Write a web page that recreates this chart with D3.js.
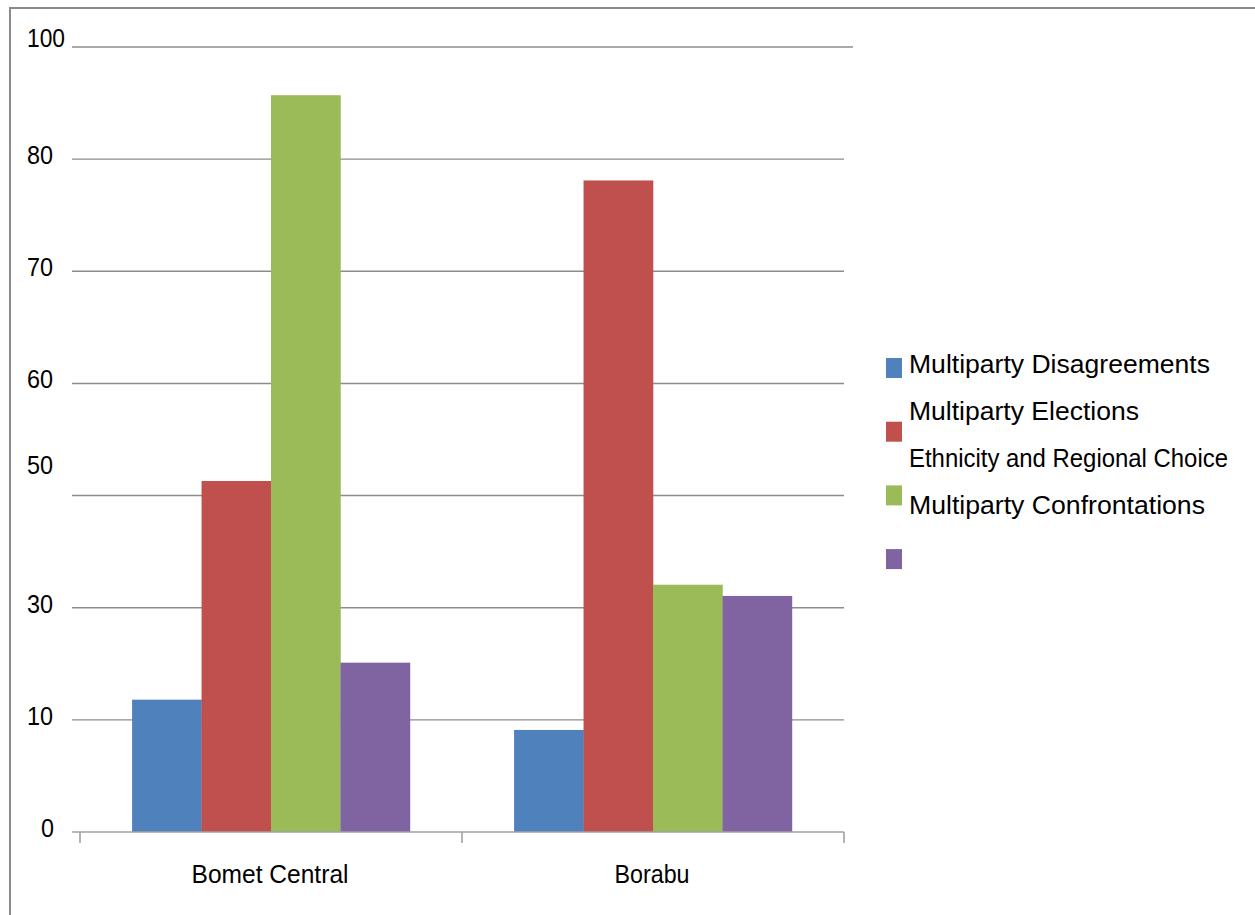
<!DOCTYPE html>
<html>
<head>
<meta charset="utf-8">
<script src="https://cdn.jsdelivr.net/npm/d3@7"></script>
<style>
  html, body { margin: 0; padding: 0; background: #fff; }
  svg { display: block; font-family: "Liberation Sans", Arial, sans-serif; }
</style>
</head>
<body>
<svg id="chart" width="1255" height="915"></svg>
<script>
// ---- data ----
const categories = ["Bomet Central", "Borabu"];
const seriesNames = ["Multiparty Disagreements", "Multiparty Elections", "Multiparty Confrontations", "Series 4"];
const disagreements = [13.6, 9.1];
const elections = [51.3, 78.1];
const confrontations = [91.4, 34.1];
const series4 = [20.2, 32.1];
const tickLabels = [0, 10, 30, 50, 60, 70, 80, 100];
const legendTexts = ["Multiparty Disagreements", "Multiparty Elections", "Ethnicity and Regional Choice", "Multiparty Confrontations"];

const colors = ["#4F81BD", "#C0504D", "#9BBB59", "#8064A2"];
const seriesValues = [disagreements, elections, confrontations, series4];

const svg = d3.select("#chart");

// outer border
svg.append("rect")
  .attr("x", 10).attr("y", 8)
  .attr("width", 1300).attr("height", 1000)
  .attr("fill", "none").attr("stroke", "#8a8a8a").attr("stroke-width", 2);

// scales
const yBottom = 832, yTop = 47;
const step = (yBottom - yTop) / (tickLabels.length - 1);
const y = d3.scaleLinear()
  .domain(tickLabels)
  .range(tickLabels.map((d, i) => yBottom - i * step));

const x0 = d3.scaleBand().domain(categories).range([80, 844]).paddingInner(0).paddingOuter(0);
const x1 = d3.scaleBand().domain(d3.range(seriesNames.length))
  .range([0, x0.bandwidth()]).paddingInner(0).paddingOuter(0.75);

// gridlines
svg.append("g").selectAll("line")
  .data(tickLabels.filter(d => d !== 0))
  .join("line")
  .attr("x1", 72)
  .attr("x2", d => d === 100 ? 853 : 844)
  .attr("y1", d => y(d)).attr("y2", d => y(d))
  .attr("stroke", "#8c8c8c").attr("stroke-width", 1.4);

// bars
const rows = categories.map((c, ci) => ({ c, vals: seriesValues.map((s, si) => ({ si, v: s[ci] })) }));
svg.append("g").selectAll("g")
  .data(rows)
  .join("g")
  .attr("transform", d => `translate(${x0(d.c)},0)`)
  .selectAll("rect")
  .data(d => d.vals)
  .join("rect")
  .attr("x", d => x1(d.si))
  .attr("width", x1.bandwidth() + 0.3)
  .attr("y", d => y(d.v))
  .attr("height", d => y(0) - y(d.v))
  .attr("fill", d => colors[d.si]);

// x axis
const xAxis = svg.append("g");
xAxis.append("line")
  .attr("x1", 72).attr("x2", 844)
  .attr("y1", y(0)).attr("y2", y(0))
  .attr("stroke", "#a0a0a0").attr("stroke-width", 1.6);
const tickXs = [x0.range()[0]].concat(categories.map(c => x0(c) + x0.bandwidth()));
xAxis.selectAll("line.tick")
  .data(tickXs)
  .join("line")
  .attr("class", "tick")
  .attr("x1", d => d).attr("x2", d => d)
  .attr("y1", y(0)).attr("y2", y(0) + 11)
  .attr("stroke", "#a0a0a0").attr("stroke-width", 1.6);

const catWidths = { "Bomet Central": 157, "Borabu": 75 };
xAxis.selectAll("text")
  .data(categories)
  .join("text")
  .attr("x", d => x0(d) + x0.bandwidth() / 2 - 1)
  .attr("y", 882.5)
  .attr("text-anchor", "middle")
  .attr("font-size", 26)
  .attr("textLength", d => catWidths[d])
  .attr("lengthAdjust", "spacingAndGlyphs")
  .attr("fill", "#000")
  .text(d => d);

// y tick labels
const labelDy = { 100: -9, 50: -31 };
svg.append("g").selectAll("text")
  .data(tickLabels)
  .join("text")
  .attr("x", d => d === 0 ? 54 : 27)
  .attr("text-anchor", d => d === 0 ? "end" : "start")
  .attr("y", d => y(d) + (labelDy[d] !== undefined ? labelDy[d] : -4.5) + 9.3)
  .attr("font-size", 26)
  .attr("textLength", d => String(d).length === 3 ? 38 : String(d).length * 13)
  .attr("lengthAdjust", "spacingAndGlyphs")
  .attr("fill", "#000")
  .text(d => d);

// legend
const legend = svg.append("g");
legend.selectAll("rect")
  .data(colors)
  .join("rect")
  .attr("x", 886)
  .attr("y", (d, i) => 358 + i * 63.7)
  .attr("width", 16).attr("height", 20)
  .attr("fill", d => d);
const legendWidths = [301, 230, 319, 296];
legend.selectAll("text")
  .data(legendTexts)
  .join("text")
  .attr("x", 909)
  .attr("y", (d, i) => 372.5 + i * 47.3)
  .attr("font-size", 25.5)
  .attr("textLength", (d, i) => legendWidths[i])
  .attr("lengthAdjust", "spacingAndGlyphs")
  .attr("fill", "#000")
  .text(d => d);
</script>
</body>
</html>
